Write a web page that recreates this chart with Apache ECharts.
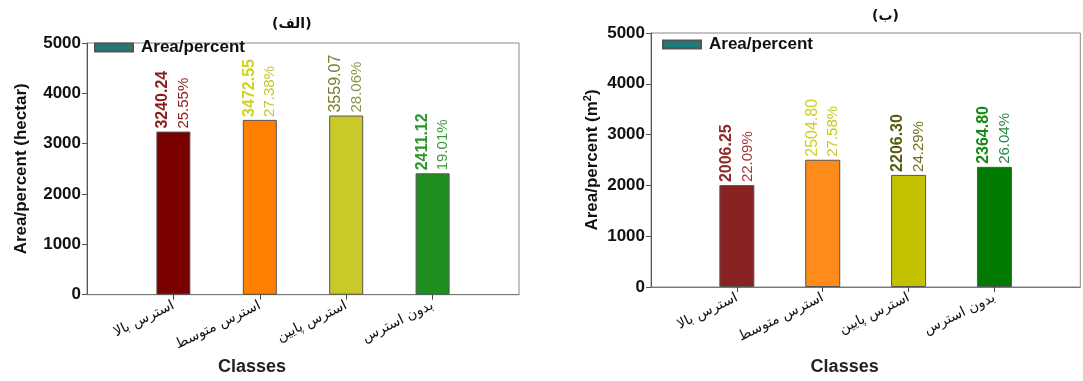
<!DOCTYPE html>
<html>
<head>
<meta charset="utf-8">
<script src="https://cdn.jsdelivr.net/npm/echarts@6/dist/echarts.min.js"></script>
<style>
  html, body { margin: 0; padding: 0; background: #fff; }
  #chart { width: 1083px; height: 381px; }
</style>
</head>
<body>
<div id="chart"></div>
<script>
// Stress classes (x axis)
const categories = ['استرس بالا', 'استرس متوسط', 'استرس پایین', 'بدون استرس'];

// Panel (الف): area in hectares and share of total
const areaHectar = [3240.24, 3472.55, 3559.07, 2411.12];
const percentA = [25.55, 27.38, 28.06, 19.01];

// Panel (ب): area in m² and share of total
const areaM2 = [2006.25, 2504.80, 2206.30, 2364.80];
const percentB = [22.09, 27.58, 24.29, 26.04];

// Y axis range
const yMin = 0, yMax = 5000, yStep = 1000;

// Colours and label styling
const barColorsA = ['#7a0000', '#ff8000', '#c9c92a', '#1f8f1f'];
const valColorsA = ['#8b1a1a', '#d2d21e', '#7c7c2c', '#2a962a'];
const pctColorsA = ['#8b1a1a', '#c6c632', '#8a9650', '#3a9a3a'];
const valWeightA = ['bold', 'bold', 'normal', 'bold'];

const barColorsB = ['#8b2222', '#ff8c1a', '#c2c200', '#007a00'];
const valColorsB = ['#8b2a2a', '#d0d020', '#5a5a10', '#138a13'];
const pctColorsB = ['#a03a3a', '#c8c820', '#707020', '#2a8a4a'];
const valWeightB = ['bold', 'normal', 'bold', 'bold'];

const SANS = '"Liberation Sans", Arial, sans-serif';
const ARAB = '"DejaVu Sans", sans-serif';
const LEGEND_COLOR = '#1c7c7c';

// Category axis padded with an empty slot on each side so bars sit at 1..4 of 0..5
const xData = [''].concat(categories, ['']);
const showInner = (i) => i > 0 && i < xData.length - 1;

function barData(values, pcts, barColors, valColors, pctColors, weights) {
  const items = values.map((v, i) => ({
    value: v,
    itemStyle: { color: barColors[i] },
    label: {
      formatter: '{v|' + v.toFixed(2) + '}\n{p|' + pcts[i].toFixed(2) + '%}',
      rich: {
        v: { fontSize: 16, fontWeight: weights[i], color: valColors[i], lineHeight: 21, fontFamily: SANS },
        p: { fontSize: 15, color: pctColors[i], lineHeight: 21, fontFamily: SANS }
      }
    }
  }));
  return ['-'].concat(items, ['-']);
}

function xAxisFor(gridIndex, namePad, nameGap) {
  return {
    type: 'category', gridIndex: gridIndex, data: xData, boundaryGap: false,
    axisLine: { lineStyle: { color: '#777', width: 1 } },
    axisTick: { interval: (i) => showInner(i), length: 5, lineStyle: { color: '#444' } },
    axisLabel: {
      interval: 0, rotate: 26, margin: 10, fontSize: 14, color: '#111', fontFamily: ARAB
    },
    splitLine: { show: false },
    name: 'Classes', nameLocation: 'middle', nameGap: nameGap,
    nameTextStyle: { fontSize: 18, fontWeight: 'bold', color: '#222', fontFamily: SANS, padding: [0, namePad, 0, 0] }
  };
}

function yAxisFor(gridIndex, name, nameGap, rich) {
  return {
    type: 'value', gridIndex: gridIndex, min: yMin, max: yMax, interval: yStep,
    axisLine: { show: true, lineStyle: { color: '#555', width: 1 } },
    axisTick: { show: true, length: 5, lineStyle: { color: '#555' } },
    axisLabel: { fontSize: 17, fontWeight: 'bold', color: '#111', margin: 6, fontFamily: SANS,
      formatter: (v) => String(v) },
    splitLine: { show: false },
    name: name, nameLocation: 'middle', nameGap: nameGap,
    nameTextStyle: { fontSize: 17, fontWeight: 'bold', color: '#111', fontFamily: SANS, rich: rich }
  };
}

const labelBase = {
  show: true, position: 'top', rotate: 90, align: 'left', verticalAlign: 'middle', distance: 3
};

const chart = echarts.init(document.getElementById('chart'), null, { renderer: 'canvas' });
chart.setOption({
  backgroundColor: '#fff',
  animation: false,
  title: [
    { text: '(الف)', left: 272, top: 17, padding: 0,
      textStyle: { fontSize: 14, fontWeight: 'bold', color: '#111', fontFamily: ARAB } },
    { text: '(ب)', left: 872, top: 9, padding: 0,
      textStyle: { fontSize: 14, fontWeight: 'bold', color: '#111', fontFamily: ARAB } }
  ],
  legend: [
    { data: ['Area/percent'], left: 94, top: 39, padding: 0, icon: 'rect', itemWidth: 38, itemHeight: 8,
      textStyle: { fontSize: 17, fontWeight: 'bold', color: '#111', fontFamily: SANS, padding: [0, 0, 0, 3] } },
    { data: ['Area/percent'], left: 662, top: 36, padding: 0, icon: 'rect', itemWidth: 38, itemHeight: 8,
      textStyle: { fontSize: 17, fontWeight: 'bold', color: '#111', fontFamily: SANS, padding: [0, 0, 0, 3] } }
  ],
  grid: [
    { left: 87, top: 43, width: 432, height: 255, show: true, borderColor: '#888', borderWidth: 1, backgroundColor: 'transparent' },
    { left: 651, top: 33, width: 437, height: 255, show: true, borderColor: '#888', borderWidth: 1, backgroundColor: 'transparent' }
  ],
  xAxis: [xAxisFor(0, 102, 62), xAxisFor(1, 42, 71)],
  yAxis: [
    yAxisFor(0, 'Area/percent (hectar)', 57),
    yAxisFor(1, '{b|Area/percent (m}{s|2}{b|)}', 48, {
      b: { fontSize: 17, fontWeight: 'bold', color: '#111', fontFamily: SANS },
      s: { fontSize: 11, fontWeight: 'bold', color: '#111', fontFamily: SANS, padding: [0, 0, 10, 0] }
    })
  ],
  series: [
    {
      name: 'Area/percent', type: 'bar', xAxisIndex: 0, yAxisIndex: 0, barWidth: 34,
      itemStyle: { color: LEGEND_COLOR, borderColor: '#555', borderWidth: 1 },
      label: labelBase,
      data: barData(areaHectar, percentA, barColorsA, valColorsA, pctColorsA, valWeightA)
    },
    {
      name: 'Area/percent', type: 'bar', xAxisIndex: 1, yAxisIndex: 1, barWidth: 35,
      itemStyle: { color: LEGEND_COLOR, borderColor: '#555', borderWidth: 1 },
      label: labelBase,
      data: barData(areaM2, percentB, barColorsB, valColorsB, pctColorsB, valWeightB)
    }
  ]
});
</script>
</body>
</html>
